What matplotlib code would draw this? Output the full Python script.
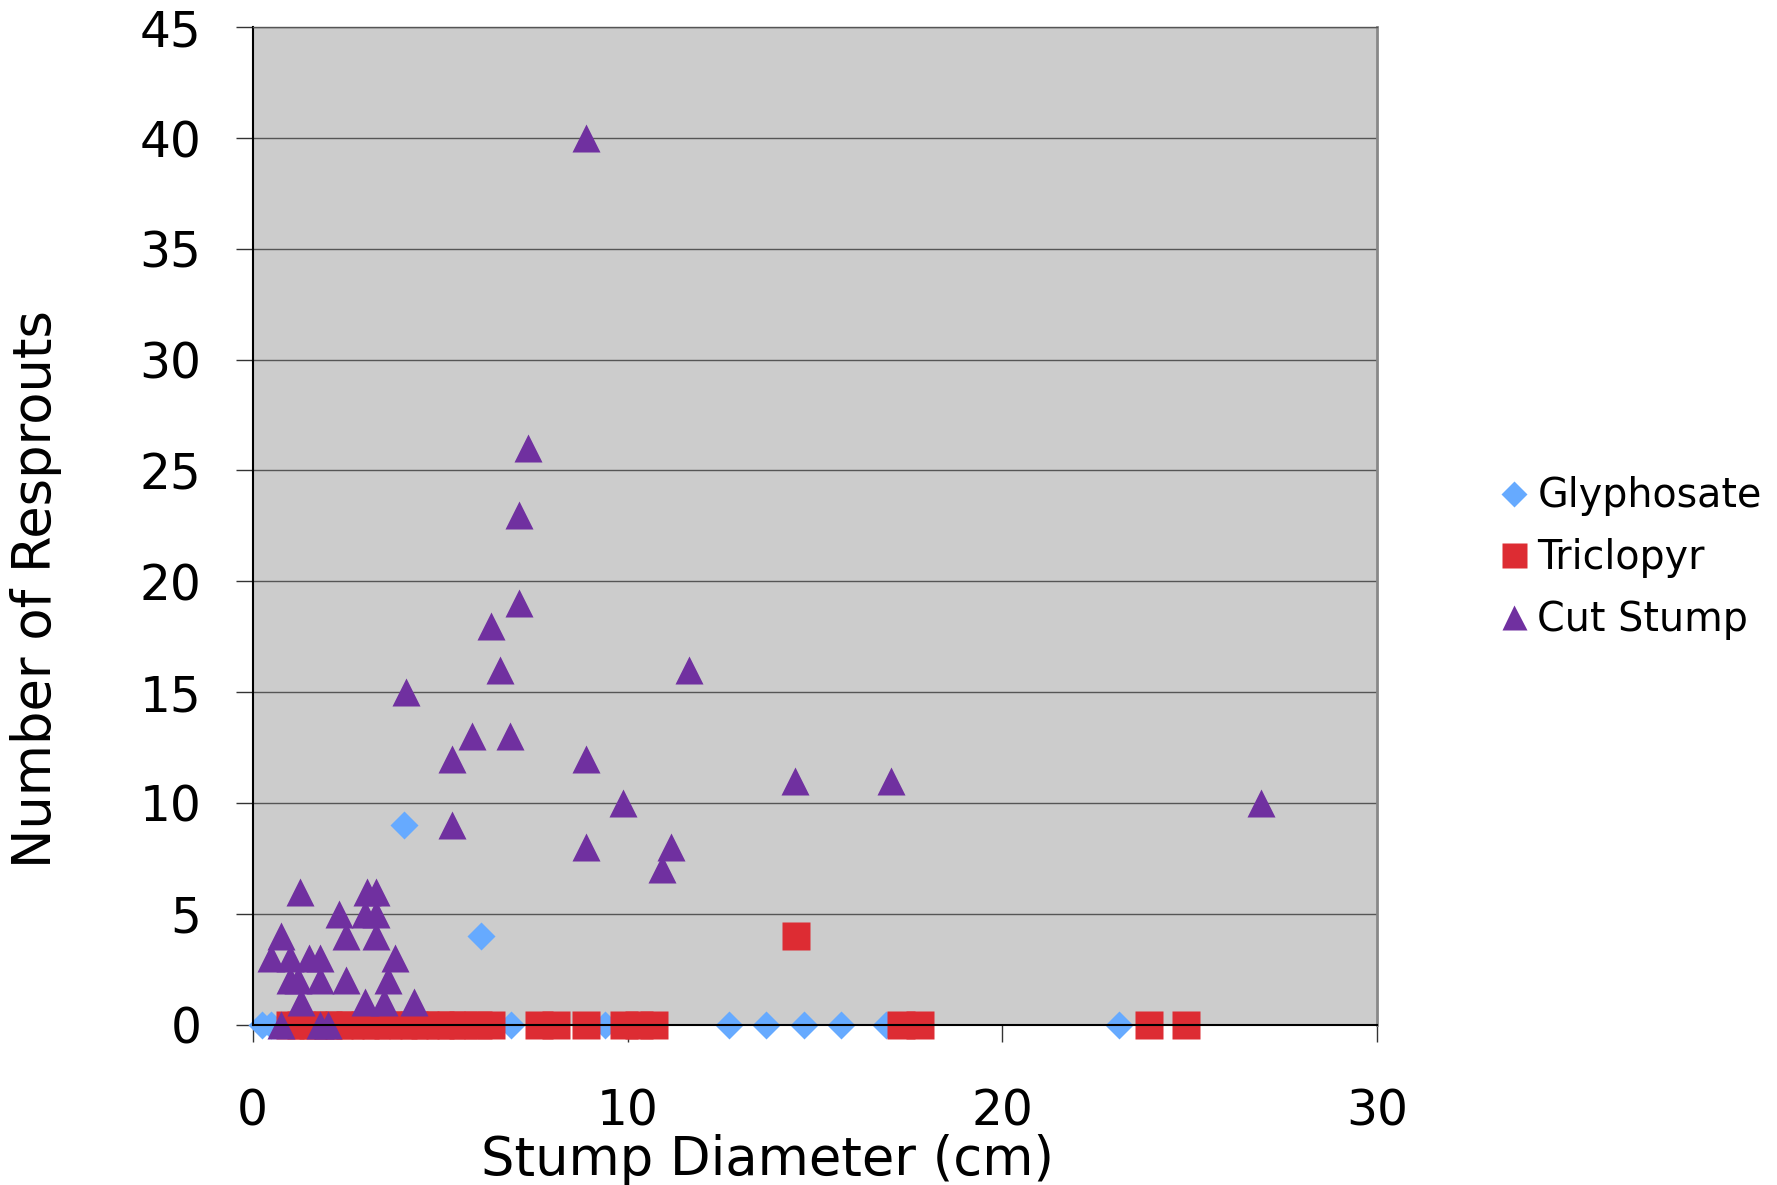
import numpy as np
import matplotlib
matplotlib.use("Agg")
import matplotlib.pyplot as plt

# Glyphosate
gly_x = [0.25, 0.49, 4.05, 6.1, 6.9, 9.4, 12.7, 13.7, 14.7, 15.7, 16.9, 23.1]
gly_y = [0, 0, 9, 4, 0, 0, 0, 0, 0, 0, 0, 0]

# Triclopyr
tri_x = [1.0, 1.3, 1.6, 2.0, 2.3, 2.6, 3.0, 3.3, 3.6, 4.0, 4.3, 4.6, 5.0, 5.3,
         5.6, 6.0, 6.35, 7.63, 8.1, 8.9, 9.9, 10.3, 10.7, 14.5, 17.3, 17.8,
         23.9, 24.9]
tri_y = [0] * 23 + [4, 0, 0, 0, 0]

# Cut Stump
cut_x = [1.26, 3.05, 3.3, 2.3, 3.0, 3.3, 0.76, 2.5, 3.3, 0.5, 1.0, 1.5, 1.8,
         3.8, 1.0, 1.2, 1.8, 2.5, 3.6, 1.3, 3.0, 3.5, 4.3, 0.75, 1.8, 2.0,
         8.89, 7.35, 7.1, 7.1, 6.35, 6.6, 11.64, 4.08, 5.84, 6.86, 5.32, 8.89,
         14.48, 17.02, 9.89, 26.9, 5.32, 8.89, 11.16, 10.92]
cut_y = [6, 6, 6, 5, 5, 5, 4, 4, 4, 3, 3, 3, 3,
         3, 2, 2, 2, 2, 2, 1, 1, 1, 1, 0, 0, 0,
         40, 26, 23, 19, 18, 16, 16, 15, 13, 13, 12, 12,
         11, 11, 10, 10, 9, 8, 8, 7]

plt.rcParams['font.family'] = ['DejaVu Sans']

fig = plt.figure(figsize=(17.77, 11.85), dpi=100)
ax = fig.add_axes([0.1422, 0.1354, 0.6328, 0.8416])
ax.set_facecolor('#cccccc')

ax.plot(gly_x, gly_y, 'D', ms=14.5, color='#66aaff', mec='none', label='Glyphosate', clip_on=False)
ax.plot(tri_x, tri_y, 's', ms=20, color='#dd2c33', mec='none', label='Triclopyr', clip_on=False)
ax.plot(cut_x, cut_y, '^', ms=20, color='#7030a0', mec='none', label='Cut Stump', clip_on=False)

ax.set_xlim(0, 30)
ax.set_ylim(0, 45)
ax.set_xticks([0, 10, 20, 30])
ax.set_yticks(range(0, 46, 5))
ax.yaxis.grid(True, color='#555555', linewidth=1.0)
ax.set_axisbelow(True)

ax.spines['top'].set_color('#555555')
ax.spines['top'].set_linewidth(1.0)
ax.spines['right'].set_color('#888888')
ax.spines['right'].set_linewidth(2.0)
ax.spines['left'].set_linewidth(1.5)
ax.spines['bottom'].set_linewidth(1.5)

ax.tick_params(axis='both', labelsize=35, length=12, width=1, color='#333333')
ax.tick_params(axis='x', pad=33)
ax.tick_params(axis='y', pad=25)

fig.text(0.4318, 0.021, 'Stump Diameter (cm)', fontsize=38, ha='center', va='center')
fig.text(0.0204, 0.503, 'Number of Resprouts', fontsize=38, ha='center', va='center',
         rotation=90)

fig.legend(loc='center left', bbox_to_anchor=(0.825, 0.529), frameon=False,
           fontsize=28.5, markerscale=0.9, handlelength=0.6, handletextpad=0.3,
           labelspacing=0.55)

fig.savefig('out.png', dpi=100)
